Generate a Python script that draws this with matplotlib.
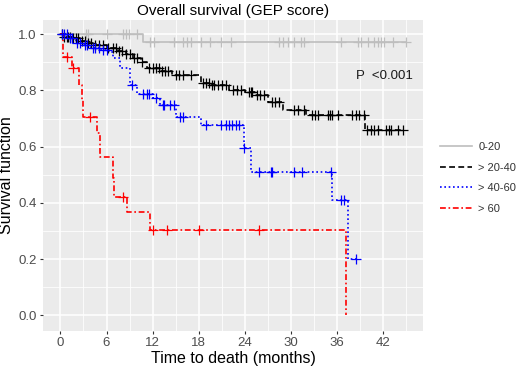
import numpy as np
import matplotlib
matplotlib.use("Agg")
import matplotlib.pyplot as plt
from matplotlib.lines import Line2D

plt.rcParams['font.family'] = ['Liberation Sans', 'DejaVu Sans']

# Kaplan-Meier curves: step times, survival after step, last follow-up
groups = ["0-20", "> 20-40", "> 40-60", "> 60"]

g1_t = [0, 10.8]
g1_s = [1.0, 0.973]
g1_end = 45.0
g1_cens = [3.3, 3.6, 6.0, 8.1, 8.5, 8.9, 10.0, 11.7, 12.2, 14.8, 16.0, 16.5, 17.0, 18.3,
           19.5, 20.9, 22.2, 28.4, 29.0, 29.6, 30.4, 31.3, 31.7, 36.5, 38.7, 39.1, 40.0,
           40.8, 41.3, 41.7, 42.1, 43.3, 45.0]

g2_t = [0, 0.5, 1.5, 2.5, 3.5, 4.5, 6.0, 7.5, 8.5, 9.5, 10.5, 11.3, 13.0, 14.5, 18.3,
        19.5, 22.0, 24.0, 25.5, 27.0, 29.0, 32.0, 39.7]
g2_s = [1.0, 0.99, 0.985, 0.975, 0.97, 0.96, 0.95, 0.94, 0.93, 0.915, 0.90, 0.88, 0.87,
        0.855, 0.826, 0.82, 0.80, 0.795, 0.785, 0.76, 0.73, 0.713, 0.66]
g2_end = 44.6
g2_cens = [0.2, 0.5, 0.8, 1.0, 1.3, 1.6, 2.0, 2.3, 2.8, 3.2, 3.6, 4.0, 4.5, 5.0, 5.5, 6.2,
           6.8, 7.2, 7.6, 8.0, 8.6, 9.0, 9.6, 10.0, 10.6, 11.5, 12.0, 12.4, 12.8, 13.2, 13.6,
           14.0, 15.0, 15.5, 16.0, 17.0, 18.5, 19.0, 19.3, 19.7, 20.0, 20.5, 21.0, 21.5,
           22.5, 23.0, 23.5, 24.5, 24.8, 25.0, 25.6, 26.0, 26.5, 27.5, 28.0, 28.5, 30.4,
           30.9, 31.7, 32.7, 33.2, 33.5, 34.8, 35.1, 35.4, 36.1, 38.0, 38.5, 38.9, 39.5,
           39.9, 40.4, 40.8, 41.3, 42.4, 42.8, 43.0, 43.9, 44.6]

g3_t = [0, 1.0, 2.0, 3.0, 4.0, 5.2, 6.3, 6.9, 7.8, 9.1, 10.0, 12.0, 13.0, 15.0, 18.3,
        23.9, 24.8, 35.4, 37.4]
g3_s = [1.0, 0.985, 0.97, 0.96, 0.95, 0.943, 0.937, 0.915, 0.879, 0.819, 0.787, 0.772,
        0.748, 0.705, 0.677, 0.595, 0.51, 0.41, 0.202]
g3_end = 38.5
g3_cens = [0.2, 0.5, 0.8, 1.2, 1.5, 2.2, 2.5, 3.2, 3.5, 4.2, 4.5, 5.0, 5.5, 6.0, 9.3,
           10.7, 11.3, 11.5, 12.4, 13.3, 13.5, 14.3, 14.8, 15.6, 15.9, 18.9, 20.9, 21.5,
           21.9, 22.4, 22.8, 23.2, 23.9, 25.8, 27.4, 27.6, 30.4, 31.5, 35.2, 36.5, 36.9, 38.5]

g4_t = [0, 0.3, 1.5, 2.4, 2.8, 3.0, 4.8, 5.2, 6.8, 7.0, 8.7, 11.7, 37.2]
g4_s = [1.0, 0.918, 0.879, 0.82, 0.765, 0.706, 0.647, 0.565, 0.49, 0.42, 0.368, 0.305, 0.0]
g4_end = 37.2
g4_cens = [0.9, 1.7, 3.9, 8.1, 12.1, 13.9, 18.0, 25.8]

colors = ["#BEBEBE", "black", "#0000FF", "#FF0000"]
styles = ["-", (0, (3.5, 2)), (0, (1, 1.6)), (0, (3.5, 1.6, 1, 1.6))]

x_ticks = [0, 6, 12, 18, 24, 30, 36, 42]
y_ticks = [0.0, 0.2, 0.4, 0.6, 0.8, 1.0]

fig = plt.figure(figsize=(5.2, 3.66), dpi=100)
ax = fig.add_axes([0.083, 0.096, 0.731, 0.849])
ax.set_facecolor("#EBEBEB")

curves = [(g1_t, g1_s, g1_end, g1_cens), (g2_t, g2_s, g2_end, g2_cens),
          (g3_t, g3_s, g3_end, g3_cens), (g4_t, g4_s, g4_end, g4_cens)]

for (t, s, end, cens), col, ls in zip(curves, colors, styles):
    tt = np.array(t + [end])
    ss = np.array(s + [s[-1]])
    ax.step(tt, ss, where="post", color=col, linestyle=ls, lw=1.2, zorder=3)
    c = np.array(cens)
    idx = np.searchsorted(np.array(t), c, side="right") - 1
    ax.plot(c, np.array(s)[idx], linestyle="none", marker="+", color=col,
            ms=6.5, mew=0.9, zorder=4)

ax.set_xlim(-2.25, 47.25)
ax.set_ylim(-0.055, 1.05)
ax.set_xticks(x_ticks)
ax.set_yticks(y_ticks)
ax.set_yticklabels([f"{v:.1f}" for v in y_ticks])
ax.set_xticks(np.arange(3, 47, 6), minor=True)
ax.set_yticks([0.1, 0.3, 0.5, 0.7, 0.9], minor=True)
ax.grid(which="major", color="white", lw=1.1)
ax.grid(which="minor", color="white", lw=0.55)
ax.set_axisbelow(True)
for sp in ax.spines.values():
    sp.set_visible(False)
ax.tick_params(which="major", length=2.5, width=0.8, color="#333333",
               labelcolor="#4D4D4D", labelsize=9.5, pad=2)
ax.tick_params(which="minor", length=0)

ax.set_title("Overall survival (GEP score)", fontsize=11, pad=4)
ax.set_xlabel("Time to death (months)", fontsize=11.5, labelpad=1)
ax.set_ylabel("Survival function", fontsize=11.5, labelpad=3)
ax.text(38.5, 0.85, "P  <0.001", fontsize=9.5, ha="left", va="center", color="#1A1A1A")

handles = [Line2D([], [], color=c, linestyle=l, lw=1.2) for c, l in zip(colors, styles)]
fig.legend(handles, groups, loc="upper left", bbox_to_anchor=(0.846, 0.612),
           frameon=False, fontsize=8, handlelength=2.9, handletextpad=0.55,
           labelspacing=0.95, borderpad=0, borderaxespad=0, labelcolor="#333333")

fig.savefig("out.png", dpi=100)
